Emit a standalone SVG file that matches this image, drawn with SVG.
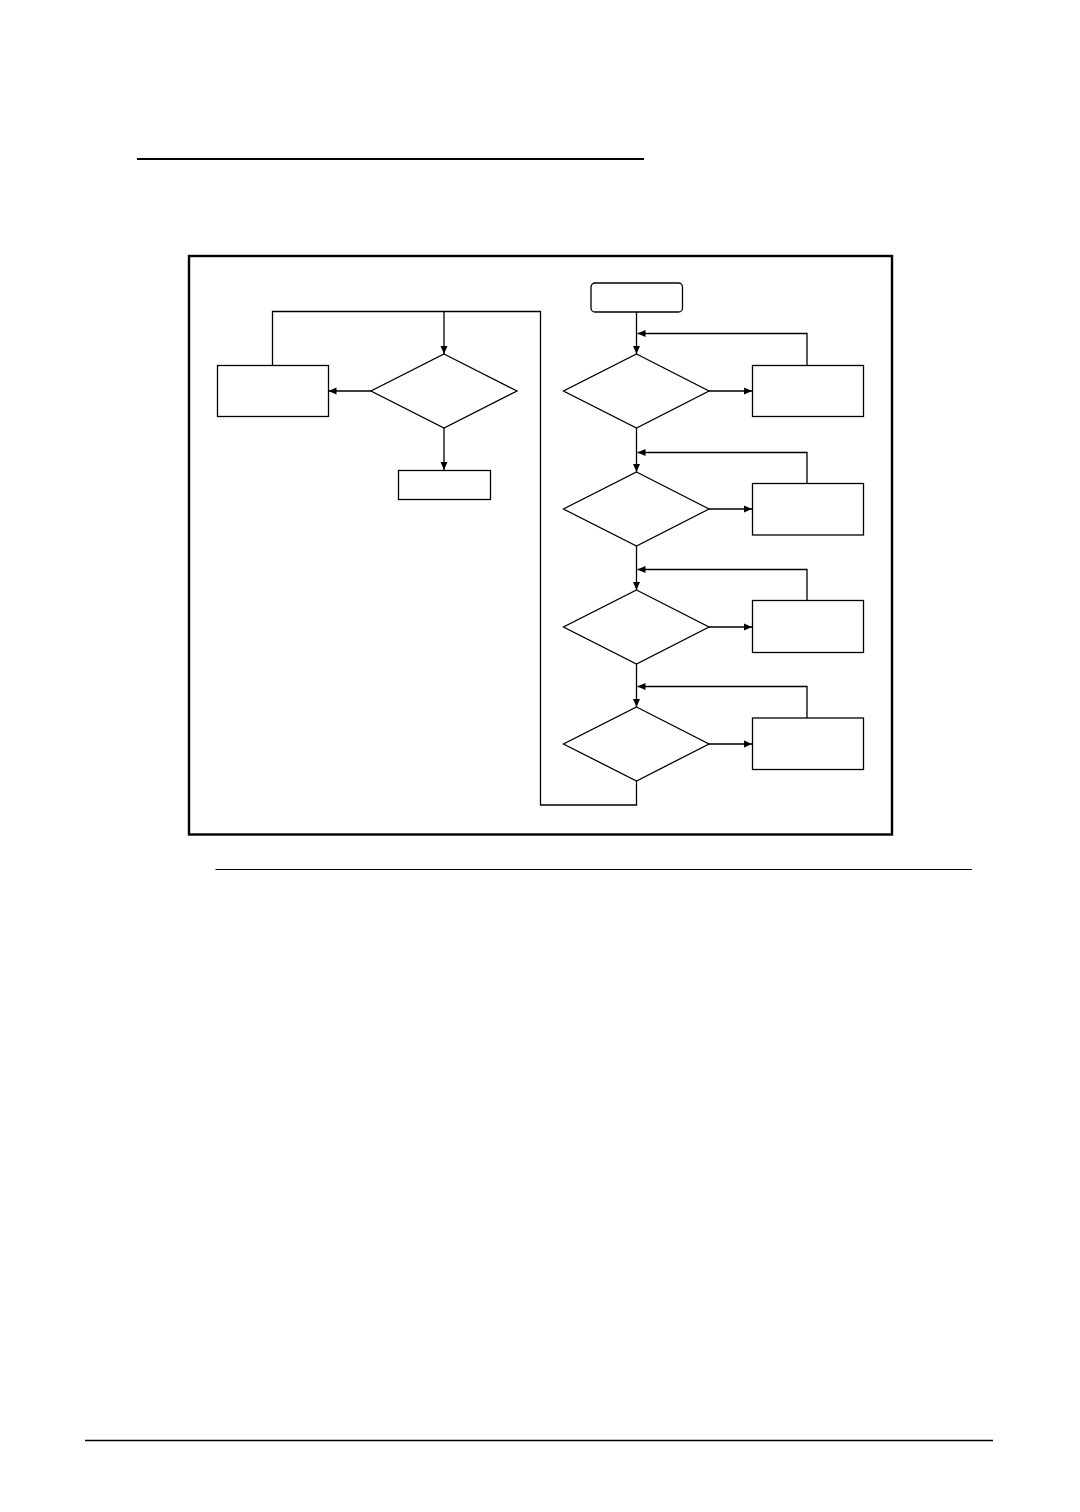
<svg xmlns="http://www.w3.org/2000/svg" width="1080" height="1512" viewBox="0 0 1080 1512">
<style>
.n{fill:#fff;stroke:#000;stroke-width:1.3}
.c{fill:none;stroke:#000;stroke-width:1.3}
.a{marker-end:url(#ah)}
</style>
<defs>
<marker id="ah" markerWidth="8" markerHeight="8" viewBox="0 0 8 8" refX="8" refY="4" orient="auto" markerUnits="userSpaceOnUse">
<path d="M0,0.5 L8,4 L0,7.5 Z" fill="#000"/>
</marker>
</defs>
<rect width="1080" height="1512" fill="#fff"/>
<line x1="137" y1="159" x2="644" y2="159" stroke="#000" stroke-width="2.2"/>
<rect x="189" y="256" width="703" height="578.5" fill="none" stroke="#000" stroke-width="2.4"/>
<line x1="215.5" y1="869.5" x2="972" y2="869.5" stroke="#000" stroke-width="1.1"/>
<line x1="85" y1="1440.5" x2="993" y2="1440.5" stroke="#000" stroke-width="1.3"/>
<g id="connectors">
<path class="c a" d="M636.5,312 V354"/>
<path class="c a" d="M807,365 V333.5 H637.5"/>
<path class="c a" d="M709,391 H752"/>
<path class="c a" d="M636.5,428 V472"/>
<path class="c a" d="M807,483 V452.5 H637.5"/>
<path class="c a" d="M709,509 H752"/>
<path class="c a" d="M636.5,546 V590"/>
<path class="c a" d="M807,600.5 V569.5 H637.5"/>
<path class="c a" d="M709,627 H752"/>
<path class="c a" d="M636.5,664 V707"/>
<path class="c a" d="M807,718 V686.5 H637.5"/>
<path class="c a" d="M709,744 H752"/>
<path class="c" d="M636.5,781 V805 H540.5 V311.5 H272.5 V365"/>
<path class="c a" d="M444,311.5 V354"/>
<path class="c a" d="M371,391 H328.5"/>
<path class="c a" d="M444,428 V470"/>
</g>
<g id="start"><rect class="n" x="591" y="283" width="91.5" height="29" rx="4" ry="4" stroke="#222"/></g>
<g id="d1"><polygon class="n" points="636.5,354 709,391 636.5,428 563.5,391"/></g>
<g id="b1"><rect class="n" x="752.5" y="365.5" width="111" height="51"/></g>
<g id="d2"><polygon class="n" points="636.5,472 709,509 636.5,546 563.5,509"/></g>
<g id="b2"><rect class="n" x="752.5" y="483.5" width="111" height="51.5"/></g>
<g id="d3"><polygon class="n" points="636.5,590 709,627 636.5,664 563.5,627"/></g>
<g id="b3"><rect class="n" x="752.5" y="600.5" width="111" height="52"/></g>
<g id="d4"><polygon class="n" points="636.5,707 709,744 636.5,781 563.5,744"/></g>
<g id="b4"><rect class="n" x="752.5" y="718" width="111" height="51.5"/></g>
<g id="dl"><polygon class="n" points="444,354 517,391 444,428 371,391"/></g>
<g id="bl"><rect class="n" x="217.5" y="365.5" width="111" height="51"/></g>
<g id="be"><rect class="n" x="398.5" y="470.5" width="92" height="29"/></g>
</svg>
